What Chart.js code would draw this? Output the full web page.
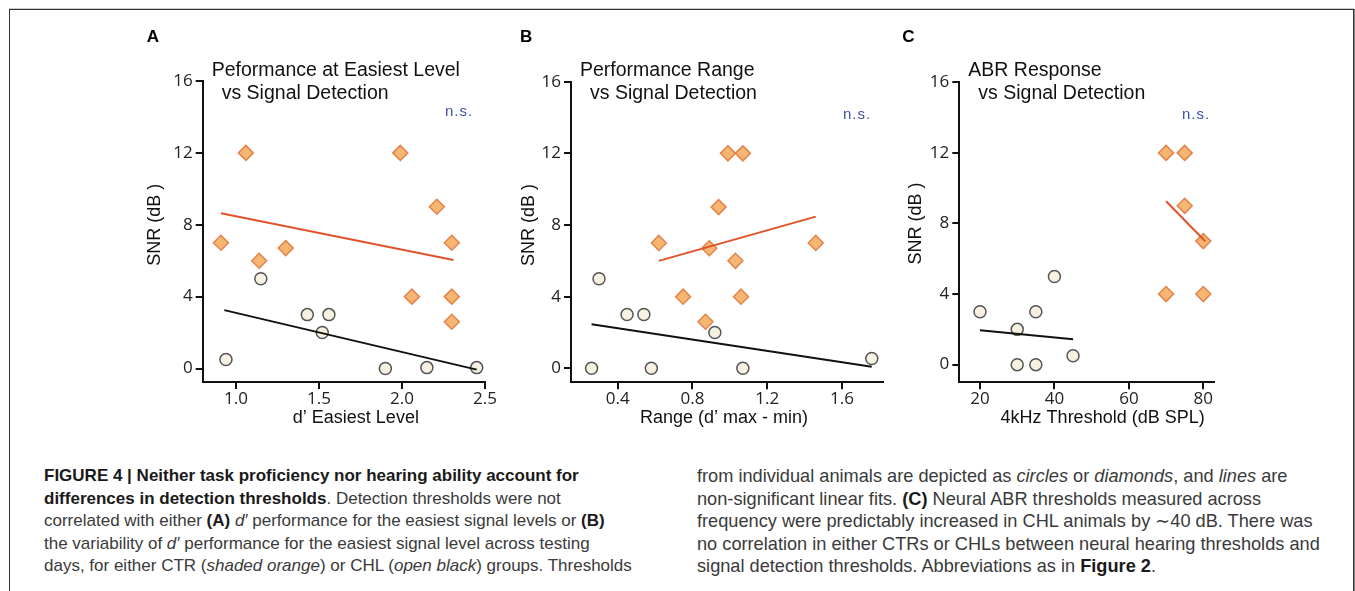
<!DOCTYPE html>
<html>
<head>
<meta charset="utf-8">
<script src="https://cdn.jsdelivr.net/npm/chart.js@4.4.1/dist/chart.umd.min.js"></script>
<style>
html, body { margin: 0; padding: 0; background: #fff; }
body { width: 1355px; height: 591px; position: relative; overflow: hidden; font-family: "Liberation Sans", Arial, sans-serif; }
#frame { position: absolute; left: 9px; top: 9px; width: 1343px; height: 620px; border: 1px solid #333; box-shadow: 0 -1px 0 #ccc, 1px 0 0 #888; }
canvas { position: absolute; top: 20px; }
.caption { position: absolute; top: 465px; font-size: 17px; line-height: 22.5px; color: #3a3a3a; white-space: nowrap; }
.caption b { color: #1a1a1a; }
</style>
</head>
<body>
<div id="frame"></div>
<canvas id="panelA" width="380" height="420" style="left:120px;width:380px;height:420px"></canvas>
<canvas id="panelB" width="395" height="420" style="left:500px;width:395px;height:420px"></canvas>
<canvas id="panelC" width="335" height="420" style="left:895px;width:335px;height:420px"></canvas>

<div class="caption" style="left:44px">
<b>FIGURE 4 | Neither task proficiency nor hearing ability account for</b><br>
<b>differences in detection thresholds</b>. Detection thresholds were not<br>
correlated with either <b>(A)</b> <i>d′</i> performance for the easiest signal levels or <b>(B)</b><br>
the variability of <i>d′</i> performance for the easiest signal level across testing<br>
days, for either CTR (<i>shaded orange</i>) or CHL (<i>open black</i>) groups. Thresholds
</div>
<div class="caption" style="left:697px;font-size:18.2px">
from individual animals are depicted as <i>circles</i> or <i>diamonds</i>, and <i>lines</i> are<br>
non-significant linear fits. <b>(C)</b> Neural ABR thresholds measured across<br>
frequency were predictably increased in CHL animals by ∼40 dB. There was<br>
no correlation in either CTRs or CHLs between neural hearing thresholds and<br>
signal detection thresholds. Abbreviations as in <b>Figure 2</b>.
</div>

<script>
// shared y axis: SNR (dB)
const yTicks = [0, 4, 8, 12, 16];

// A: d' at easiest level
const aTicks = [1.0, 1.5, 2.0, 2.5];
const aCtrX = [0.91, 1.06, 1.14, 1.30, 1.99, 2.21, 2.30, 2.06, 2.30, 2.30];
const aCtrY = [7, 12, 6, 6.7, 12, 9, 7, 4, 4, 2.6];
const aChlX = [0.94, 1.15, 1.43, 1.56, 1.52, 1.90, 2.15, 2.45];
const aChlY = [0.5, 5, 3, 3, 2, 0, 0.05, 0.05];
const aCtrFitX = [0.91, 2.31];
const aCtrFitY = [8.64, 6.04];
const aChlFitX = [0.93, 2.45];
const aChlFitY = [3.25, -0.06];

// B: range of d'
const bTicks = [0.4, 0.8, 1.2, 1.6];
const bCtrX = [0.62, 0.99, 1.07, 0.94, 0.89, 1.03, 1.46, 0.75, 1.06, 0.87];
const bCtrY = [7, 12, 12, 9, 6.7, 6, 7, 4, 4, 2.6];
const bChlX = [0.30, 0.45, 0.54, 0.26, 0.58, 0.92, 1.07, 1.76];
const bChlY = [5, 3, 3, 0, 0, 2, 0, 0.55];
const bCtrFitX = [0.62, 1.46];
const bCtrFitY = [6.0, 8.47];
const bChlFitX = [0.26, 1.76];
const bChlFitY = [2.46, 0.09];

// C: 4kHz ABR threshold
const cTicks = [20, 40, 60, 80];
const cCtrX = [70, 75, 75, 80, 70, 80];
const cCtrY = [12, 12, 9, 7, 4, 4];
const cChlX = [20, 30, 35, 40, 30, 35, 45];
const cChlY = [3, 2, 3, 5, 0, 0, 0.5];
const cCtrFitX = [70, 80.5];
const cCtrFitY = [9.26, 6.99];
const cChlFitX = [20, 45];
const cChlFitY = [1.95, 1.44];

const DIAMOND_FILL = '#f4b670';
const DIAMOND_EDGE = '#e3844f';
const CIRCLE_FILL = '#f6f1e0';
const CIRCLE_EDGE = '#555555';
const FIT_ORANGE = '#e0532a';
const NS_BLUE = '#3f4fa6';

function pts(xs, ys) {
    return xs.map((x, i) => ({ x: x, y: ys[i] }));
}

// draws the panel letter, title, n.s. and the axis titles
const panelText = {
    id: 'panelText',
    afterDraw(chart, args, o) {
        const { ctx, chartArea: ca, scales: { y } } = chart;
        ctx.save();
        ctx.textBaseline = 'middle';
        ctx.textAlign = 'left';
        ctx.fillStyle = '#000';
        ctx.font = 'bold 17px "Liberation Sans"';
        ctx.fillText(o.letter, ca.left + o.letterDx, 17);

        ctx.fillStyle = '#111';
        ctx.font = '19.5px "Liberation Sans"';
        ctx.fillText(o.title[0], ca.left + 9, 51);
        ctx.fillText(o.title[1], ca.left + 19, 74);

        ctx.fillStyle = NS_BLUE;
        ctx.font = '15px "Liberation Sans"';
        ctx.letterSpacing = '1px';
        ctx.fillText('n.s.', ca.right + o.nsDx, o.nsY);
        ctx.letterSpacing = '0px';

        ctx.fillStyle = '#111';
        ctx.font = '18px "Liberation Sans"';
        ctx.textAlign = 'center';
        ctx.fillText(o.xTitle, (ca.left + ca.right) / 2 + o.xTitleDx, 398);

        const yMid = (y.getPixelForValue(0) + y.getPixelForValue(16)) / 2;
        ctx.translate(ca.left + o.yTitleDx, yMid);
        ctx.rotate(-Math.PI / 2);
        ctx.fillText('SNR (dB )', 0, 0);
        ctx.restore();
    }
};

function makePanel(id, p) {
    const canvas = document.getElementById(id);
    const axisStyle = {
        grid: { drawOnChartArea: false, tickLength: 7, color: '#111', lineWidth: 2 },
        border: { color: '#111', width: 2 }
    };
    new Chart(canvas, {
        type: 'scatter',
        data: {
            datasets: [
                { data: pts(p.chlFitX, p.chlFitY), showLine: true, borderColor: '#111', borderWidth: 2, pointRadius: 0, clip: false },
                { data: pts(p.ctrFitX, p.ctrFitY), showLine: true, borderColor: FIT_ORANGE, borderWidth: 2, pointRadius: 0, clip: false },
                { data: pts(p.ctrX, p.ctrY), pointStyle: 'rectRot', pointRadius: 7.5, backgroundColor: DIAMOND_FILL, borderColor: DIAMOND_EDGE, borderWidth: 1.5, clip: false },
                { data: pts(p.chlX, p.chlY), pointStyle: 'circle', pointRadius: 6, backgroundColor: CIRCLE_FILL, borderColor: CIRCLE_EDGE, borderWidth: 1.5, clip: false }
            ]
        },
        options: {
            responsive: false,
            animation: false,
            events: [],
            layout: { padding: { left: 0, top: p.axisTop - 20, right: p.canvasRight - p.axisRight, bottom: 0 } },
            plugins: {
                legend: { display: false },
                tooltip: { enabled: false },
                panelText: p.text
            },
            scales: {
                x: {
                    type: 'linear',
                    min: p.xMin,
                    max: p.xMax,
                    afterBuildTicks: s => { s.ticks = p.xTicks.map(v => ({ value: v })); },
                    afterFit: s => { s.height = 440 - p.axisBottom; },
                    ticks: {
                        callback: v => v.toFixed(p.xDec),
                        font: { family: 'Open Sans', size: 17 },
                        color: '#222',
                        padding: 0,
                        maxRotation: 0,
                        autoSkip: false
                    },
                    ...axisStyle
                },
                y: {
                    type: 'linear',
                    min: p.yMin,
                    max: 16,
                    afterBuildTicks: s => { s.ticks = yTicks.map(v => ({ value: v })); },
                    afterFit: s => { s.width = p.axisLeft - p.canvasLeft; },
                    ticks: {
                        callback: v => String(v),
                        font: { family: 'Open Sans', size: 17 },
                        color: '#222',
                        padding: 3,
                        autoSkip: false
                    },
                    ...axisStyle
                }
            }
        },
        plugins: [panelText]
    });
}

makePanel('panelA', {
    canvasLeft: 120, canvasRight: 500,
    axisLeft: 202.7, axisRight: 485, axisTop: 81, axisBottom: 382,
    xMin: 0.8, xMax: 2.5, yMin: -0.75, xTicks: aTicks, xDec: 1,
    ctrX: aCtrX, ctrY: aCtrY, chlX: aChlX, chlY: aChlY,
    ctrFitX: aCtrFitX, ctrFitY: aCtrFitY, chlFitX: aChlFitX, chlFitY: aChlFitY,
    text: { letter: 'A', letterDx: -56, title: ['Peformance at Easiest Level', 'vs Signal Detection'],
            nsDx: -40, nsY: 92, xTitle: 'd’ Easiest Level', xTitleDx: 12, yTitleDx: -48 }
});

makePanel('panelB', {
    canvasLeft: 500, canvasRight: 895,
    axisLeft: 571, axisRight: 883, axisTop: 81.7, axisBottom: 382.3,
    xMin: 0.15, xMax: 1.82, yMin: -0.78, xTicks: bTicks, xDec: 1,
    ctrX: bCtrX, ctrY: bCtrY, chlX: bChlX, chlY: bChlY,
    ctrFitX: bCtrFitX, ctrFitY: bCtrFitY, chlFitX: bChlFitX, chlFitY: bChlFitY,
    text: { letter: 'B', letterDx: -51, title: ['Performance Range', 'vs Signal Detection'],
            nsDx: -40, nsY: 95, xTitle: 'Range (d’ max - min)', xTitleDx: -3, yTitleDx: -42 }
});

makePanel('panelC', {
    canvasLeft: 895, canvasRight: 1230,
    axisLeft: 959.3, axisRight: 1214, axisTop: 82.3, axisBottom: 382.3,
    xMin: 14.44, xMax: 82.87, yMin: -1.0, xTicks: cTicks, xDec: 0,
    ctrX: cCtrX, ctrY: cCtrY, chlX: cChlX, chlY: cChlY,
    ctrFitX: cCtrFitX, ctrFitY: cCtrFitY, chlFitX: cChlFitX, chlFitY: cChlFitY,
    text: { letter: 'C', letterDx: -57, title: ['ABR Response', 'vs Signal Detection'],
            nsDx: -32, nsY: 95, xTitle: '4kHz Threshold (dB SPL)', xTitleDx: 16, yTitleDx: -43 }
});
</script>
</body>
</html>
